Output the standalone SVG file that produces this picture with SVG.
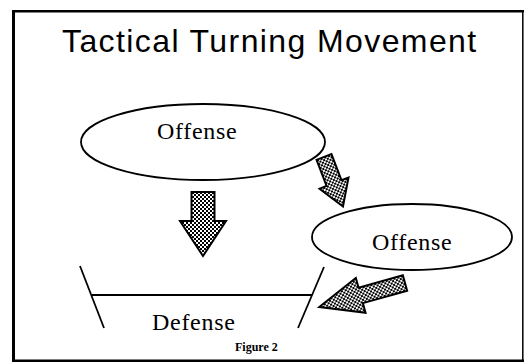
<svg xmlns="http://www.w3.org/2000/svg" width="524" height="362" viewBox="0 0 524 362">
<style>
.ln{fill:none;stroke:#000;stroke-width:1.8}
.node{fill:#fff;stroke:#000;stroke-width:1.8}
.lbl{font-family:"Liberation Serif","Times New Roman",serif;font-size:24px;letter-spacing:0.7px;fill:#000}
.title{font-family:"Liberation Sans",Arial,sans-serif;font-size:32px;letter-spacing:1.4px;fill:#000}
.cap{font-family:"Liberation Serif","Times New Roman",serif;font-size:12px;font-weight:bold;fill:#000}
.arr{fill:url(#dither);stroke:#000;stroke-width:2;stroke-linejoin:miter}
.inner{fill:none;stroke:#000;stroke-width:1}
</style>
<defs>
<pattern id="dither" width="4" height="4" patternUnits="userSpaceOnUse">
<rect width="4" height="4" fill="#fff"/>
<rect x="0" y="0" width="2" height="2" fill="#000"/>
<rect x="2" y="2" width="2" height="2" fill="#000"/>
</pattern>
</defs>
<rect width="524" height="362" fill="#fff"/>
<g id="frame">
<line x1="12" y1="11.3" x2="524" y2="11.3" stroke="#000" stroke-width="2.6"/>
<line x1="13.5" y1="10" x2="13.5" y2="362" stroke="#000" stroke-width="3"/>
<line x1="12" y1="360.8" x2="524" y2="360.8" stroke="#000" stroke-width="2.4"/>
<line x1="522.8" y1="10" x2="522.8" y2="362" stroke="#000" stroke-width="1.5"/>
</g>
<g id="title">
<text class="title" x="62" y="52">Tactical Turning Movement</text>
</g>
<g id="offense-main">
<ellipse class="node" cx="203" cy="142" rx="122" ry="38"/>
<text class="lbl" x="157" y="139">Offense</text>
</g>
<g id="offense-flank">
<ellipse class="node" cx="412" cy="237" rx="100" ry="33"/>
<text class="lbl" x="372" y="250">Offense</text>
</g>
<g id="defense">
<line class="ln" x1="80" y1="266" x2="104" y2="328"/>
<line class="ln" x1="91.5" y1="295" x2="312" y2="295"/>
<line class="ln" x1="324" y1="267" x2="298" y2="328"/>
<text class="lbl" x="152" y="330">Defense</text>
</g>
<g id="connectors">
<polygon class="arr" points="191.5,192 214.5,192 214.5,221 226,221 203,256 180,221 191.5,221"/>
<polygon class="arr" transform="translate(324,157) rotate(-21)" points="-8,0 8,0 8,28 15.5,28 0,53 -15.5,28 -8,28"/>
<polygon class="arr" transform="translate(405,283) rotate(74.4)" points="-8,0 8,0 8,46 18,46 0,89 -18,46 -8,46"/>
</g>
<g id="caption">
<text class="cap" x="235" y="351">Figure 2</text>
</g>
</svg>
